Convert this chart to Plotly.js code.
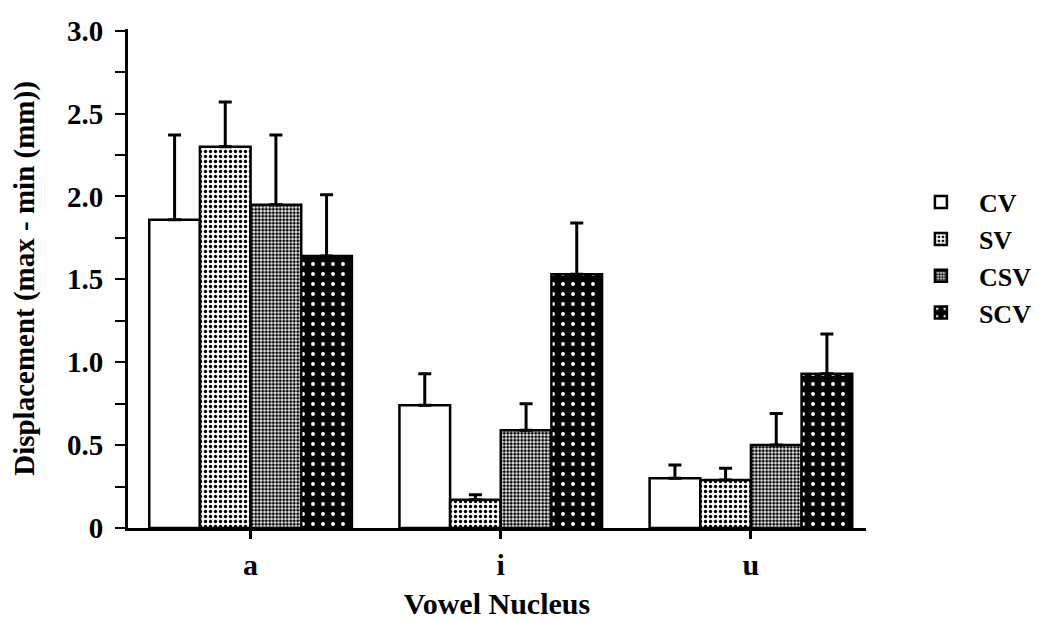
<!DOCTYPE html>
<html>
<head>
<meta charset="utf-8">
<script src="https://cdn.plot.ly/plotly-3.0.1.min.js"></script>
<style>
html,body{margin:0;padding:0;background:#fff;}
#chart{width:1041px;height:620px;}
</style>
</head>
<body>
<div id="chart"></div>
<script>
// ---- data ----
var categories = ['a', 'i', 'u'];
var seriesNames = ['CV', 'SV', 'CSV', 'SCV'];
var cvValues  = [1.86, 0.74, 0.30];
var svValues  = [2.30, 0.17, 0.29];
var csvValues = [1.95, 0.59, 0.50];
var scvValues = [1.64, 1.53, 0.93];
var cvErr  = [0.51, 0.19, 0.08];
var svErr  = [0.27, 0.03, 0.07];
var csvErr = [0.42, 0.16, 0.19];
var scvErr = [0.37, 0.31, 0.24];
var yTickVals = [0, 0.5, 1.0, 1.5, 2.0, 2.5, 3.0];
var yTickText = ['0', '0.5', '1.0', '1.5', '2.0', '2.5', '3.0'];
var yMinorVals = [0.25, 0.75, 1.25, 1.75, 2.25, 2.75];

var FONT = 'Liberation Serif, Times New Roman, serif';

function mk(name, vals, errs, pattern) {
  return {
    type: 'bar',
    name: name,
    x: categories,
    y: vals,
    marker: {
      color: 'white',
      line: {color: 'black', width: 2.5},
      pattern: pattern
    },
    error_y: {
      type: 'data',
      symmetric: false,
      array: errs,
      arrayminus: errs.map(function(){return 0;}),
      color: 'black',
      thickness: 3,
      width: 6.5
    }
  };
}

var traces = [
  mk(seriesNames[0], cvValues, cvErr, {shape: ''}),
  mk(seriesNames[1], svValues, svErr, {shape: '.', fgcolor: 'black', bgcolor: 'white', size: 5, solidity: 0.35, fillmode: 'replace'}),
  mk(seriesNames[2], csvValues, csvErr, {shape: '.', fgcolor: 'black', bgcolor: 'white', size: 3.5, solidity: 0.6, fillmode: 'replace'}),
  mk(seriesNames[3], scvValues, scvErr, {shape: '.', fgcolor: 'white', bgcolor: 'black', size: 10, solidity: 0.12, fillmode: 'replace'})
];

var layout = {
  width: 1041,
  height: 620,
  paper_bgcolor: 'white',
  plot_bgcolor: 'white',
  margin: {l: 128, r: 175, t: 29, b: 92, autoexpand: false},
  barmode: 'group',
  bargap: 0.19,
  bargroupgap: 0,
  font: {family: FONT, color: 'black', size: 28, weight: 'bold'},
  xaxis: {
    range: [-0.49, 2.46],
    showline: true,
    linecolor: 'black',
    linewidth: 3,
    ticks: 'outside',
    ticklen: 8,
    tickwidth: 3,
    tickcolor: 'black',
    ticklabelstandoff: 0,
    tickfont: {family: FONT, size: 30, weight: 'bold', color: 'black'},
    showgrid: false,
    zeroline: false,
    automargin: false,
    title: {text: 'Vowel Nucleus', font: {family: FONT, size: 30, weight: 'bold', color: 'black'}, standoff: 22}
  },
  yaxis: {
    range: [0, 3.01],
    showline: true,
    linecolor: 'black',
    linewidth: 3,
    tickmode: 'array',
    tickvals: yTickVals,
    ticktext: yTickText,
    ticks: 'outside',
    ticklen: 10,
    tickwidth: 2,
    tickcolor: 'black',
    ticklabelstandoff: 6,
    minor: {tickmode: 'array', tickvals: yMinorVals, ticks: 'outside', ticklen: 10, tickwidth: 2, tickcolor: 'black', showgrid: false},
    tickfont: {family: FONT, size: 29, weight: 'bold', color: 'black'},
    showgrid: false,
    zeroline: false,
    automargin: false,
    title: {text: 'Displacement (max - min (mm))', font: {family: FONT, size: 29, weight: 'bold', color: 'black'}, standoff: 24}
  },
  showlegend: true,
  legend: {
    x: 1.050,
    y: 0.70,
    xanchor: 'left',
    yanchor: 'top',
    font: {family: FONT, size: 26, weight: 'bold', color: 'black'},
    bgcolor: 'rgba(0,0,0,0)',
    itemwidth: 66
  }
};

Plotly.newPlot('chart', traces, layout, {staticPlot: true, displayModeBar: false});
</script>
</body>
</html>
